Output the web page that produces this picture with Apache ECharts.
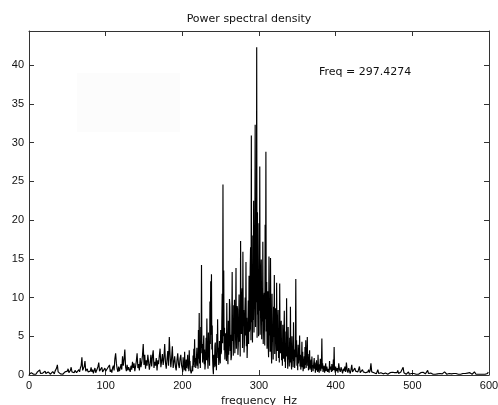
<!DOCTYPE html>
<html>
<head>
<meta charset="utf-8">
<script src="https://cdn.jsdelivr.net/npm/echarts@6/dist/echarts.min.js"></script>
<style>html,body{margin:0;padding:0;background:#fff}#c{width:498px;height:405px}</style>
</head>
<body>
<div id="c"></div>
<script>
// PSD values.
// low band: 0..199 Hz, 1 Hz spacing
const psdLow = [
0.05,0.2,0.1,0.3,0.15,0.25,0.1,0.2,0.35,0.1,
0.2,0.4,0.15,0.3,0.65,0.2,0.1,0.3,0.25,0.15,
0.35,0.5,0.2,0.1,0.3,0.4,0.15,0.25,0.1,0.3,
0.2,0.45,0.3,0.15,0.5,0.3,0.9,1.3,0.4,0.2,
0.3,0.15,0.35,0.25,0.1,0.3,0.2,0.4,0.15,0.35,
0.5,0.8,0.3,0.2,0.6,1.0,0.4,0.25,0.5,0.3,
0.6,0.8,0.3,0.5,0.2,0.7,0.4,0.9,1.2,2.3,
0.6,0.4,1.1,1.8,0.5,0.3,0.8,0.4,0.6,0.3,
0.5,1.0,0.4,0.7,0.2,0.6,0.9,0.3,0.5,0.8,
1.1,1.6,0.5,0.3,0.7,1.0,0.4,0.6,0.2,0.9,
0.5,0.3,0.8,0.6,1.0,1.3,0.4,0.7,0.3,0.9,
1.2,0.6,2.1,2.8,1.5,0.8,0.4,1.1,0.5,0.9,
1.4,0.7,2.4,1.2,2.0,3.3,1.0,0.5,1.3,0.6,
1.0,0.8,0.4,1.2,0.7,1.7,0.9,1.5,0.5,1.1,
1.8,2.8,0.9,1.4,0.6,2.2,1.0,1.6,2.5,4.0,
1.3,2.6,0.8,1.9,1.2,2.6,2.5,0.7,1.5,2.6,
1.1,2.4,3.2,0.9,1.7,1.2,2.2,0.6,1.9,1.4,
2.5,3.4,1.0,1.8,2.7,1.3,2.2,4.0,1.6,0.8,
2.0,3.1,1.2,4.9,2.6,1.0,2.2,3.7,0.9,1.7,
2.4,1.1,0.6,1.9,2.8,1.4,0.9,2.1,2.6,1.2
];
// mid band: 200..400 Hz, 0.5 Hz spacing
const psdMid = [
0.8,0.4,2.3,1.1,1.5,0.6,3.0,1.2,1.0,0.5,
2.0,0.9,0.7,1.8,2.6,0.8,1.4,0.5,3.2,1.5,
1.8,0.7,0.6,0.2,0.1,0.6,1.2,0.5,2.5,1.3,
3.4,1.0,4.6,1.7,2.2,0.9,1.0,2.4,3.5,1.2,
2.0,0.8,5.8,2.1,8.0,1.5,3.1,0.9,6.2,2.8,
14.2,3.5,4.0,1.6,2.2,3.9,5.1,1.4,3.3,0.7,
1.4,2.5,4.8,1.9,7.3,3.2,2.0,0.8,5.5,2.3,
3.0,1.2,9.5,4.0,12.1,5.2,13.0,3.3,6.4,2.1,
0.8,0.1,2.6,1.0,1.5,3.8,4.2,1.1,2.0,0.6,
5.3,2.2,7.2,3.0,3.5,1.3,1.1,4.4,2.4,1.5,
5.8,2.7,3.0,6.8,10.5,4.1,24.6,5.0,13.5,3.2,
6.1,2.0,2.2,5.4,4.7,1.8,9.3,3.5,3.6,1.4,
7.0,2.6,4.1,9.8,8.8,3.1,5.2,1.9,2.3,6.0,
13.3,4.4,6.6,2.5,9.0,5.3,9.7,2.8,4.8,7.6,
13.8,3.4,6.2,8.9,8.5,2.6,3.9,6.7,10.4,4.3,
7.1,2.4,17.3,6.0,5.3,9.8,11.2,3.5,15.9,6.3,
8.4,2.9,4.2,7.7,10.0,5.1,14.6,3.7,7.4,2.2,
2.0,6.3,9.6,4.0,12.8,5.6,6.0,13.7,16.5,4.5,
30.9,6.8,11.5,4.2,18.0,7.1,22.5,5.5,9.2,15.0,
32.3,6.2,14.0,9.4,42.3,4.8,21.0,7.8,12.4,5.0,
19.6,8.3,26.9,5.2,8.5,13.1,14.9,4.6,11.0,6.9,
17.2,4.0,6.8,9.9,10.6,3.8,19.4,7.2,28.8,5.6,
12.0,3.4,7.5,10.8,4.0,2.3,15.3,5.1,9.0,3.0,
15.1,6.4,3.2,1.5,10.5,4.3,6.3,2.0,8.8,4.9,
12.9,2.7,5.0,8.6,7.9,1.8,11.9,4.1,3.1,6.7,
8.4,2.2,5.5,1.6,11.8,4.6,2.8,6.0,7.0,1.9,
4.2,1.2,6.5,3.0,2.1,5.2,8.3,1.7,3.7,0.9,
5.6,2.4,9.9,3.1,2.5,0.8,6.2,2.0,3.4,1.1,
4.8,1.6,8.8,2.6,1.5,0.7,5.0,2.1,2.9,1.0,
6.8,1.8,3.3,0.9,1.9,4.1,12.4,2.3,4.5,1.2,
2.3,0.6,3.9,1.5,1.4,2.8,5.1,1.1,2.6,0.7,
1.2,2.0,4.3,1.0,3.0,0.5,0.9,1.7,2.4,0.8,
3.6,1.3,4.5,0.9,1.8,2.6,4.9,1.2,2.7,0.6,
1.1,1.9,3.2,0.7,0.8,1.5,2.0,0.4,2.4,1.0,
1.3,0.5,0.7,1.6,2.2,0.8,1.6,0.3,0.5,1.1,
1.9,0.6,1.0,0.4,2.6,1.2,0.6,0.3,1.4,0.7,
2.1,0.5,0.9,1.6,4.7,0.8,1.5,0.4,0.8,1.0,
1.2,0.3,0.4,0.9,1.5,0.5,0.7,1.1,1.3,0.4,
0.5,0.8,1.0,0.3,1.8,0.7,0.6,1.1,0.9,0.4,
1.4,0.5,0.3,0.9,2.0,0.6,3.6,1.0,0.8,0.3,
1.1
];
// high band: 401..600 Hz, 1 Hz spacing
const psdHigh = [
0.5,0.9,0.3,1.5,0.7,0.4,1.0,0.6,0.2,
0.8,0.5,1.1,0.4,1.6,0.6,0.3,0.9,0.5,0.2,
0.7,1.3,0.4,0.6,0.2,0.9,0.5,0.3,0.7,0.4,
0.6,1.1,0.3,0.5,0.2,0.7,0.4,0.2,0.6,0.3,
0.5,0.2,0.4,0.7,0.3,0.6,1.5,0.4,0.2,0.5,
0.3,0.2,0.4,0.15,0.3,0.7,0.2,0.35,0.1,0.3,
0.2,0.4,0.15,0.3,0.1,0.25,0.4,0.2,0.1,0.3,
0.15,0.3,0.2,0.1,0.35,0.2,0.15,0.3,0.1,0.2,
0.3,0.6,0.2,0.35,0.1,0.4,0.2,0.5,1.0,0.3,
0.15,0.3,0.1,0.25,0.2,0.4,0.1,0.3,0.15,0.2,
0.3,0.1,0.2,0.35,0.15,0.1,0.3,0.2,0.1,0.25,
0.15,0.3,0.1,0.2,0.35,0.1,0.2,0.15,0.3,0.1,
0.6,0.2,0.3,0.1,0.25,0.15,0.35,0.1,0.2,0.3,
0.1,0.2,0.35,0.15,0.1,0.3,0.2,0.1,0.25,0.15,
0.3,0.2,0.4,0.65,0.2,0.1,0.3,0.15,0.2,0.1,
0.25,0.15,0.3,0.1,0.2,0.35,0.1,0.2,0.15,0.3,
0.1,0.2,0.25,0.1,0.3,0.15,0.2,0.1,0.3,0.2,
0.15,0.1,0.25,0.2,0.1,0.3,0.15,0.2,0.1,0.25,
0.3,0.4,0.15,0.1,0.2,0.3,0.1,0.2,0.15,0.1,
0.2,0.15,0.1,0.25,0.2,0.1,0.3,0.15,0.2,0.4,
0.1
];
const bands = [
  {start: 0, step: 1, values: psdLow},
  {start: 200, step: 0.5, values: psdMid},
  {start: 401, step: 1, values: psdHigh}
];
const xTicks = [0, 100, 200, 300, 400, 500, 600];
const yTicks = [0, 5, 10, 15, 20, 25, 30, 35, 40];
const yMax = 44.4;
const titleText = 'Power spectral density';
const xLabel = 'frequency  Hz';
const annotation = 'Freq = 297.4274';

const points = [];
bands.forEach(b => b.values.forEach((v, i) => points.push([b.start + i * b.step, v])));

const font = '"Liberation Sans", Arial, Helvetica, sans-serif';
const wideFont = '"DejaVu Sans", "Liberation Sans", sans-serif';
const axisColor = '#333';

const chart = echarts.init(document.getElementById('c'), null, {renderer: 'canvas'});
const baseAxis = {
  axisLine: {show: true, onZero: false, lineStyle: {color: axisColor, width: 1}},
  axisTick: {show: true, inside: true, length: 5, lineStyle: {color: axisColor}},
  splitLine: {show: false}
};
chart.setOption({
  animation: false,
  backgroundColor: '#fff',
  title: {
    text: titleText, left: 'center', top: 9,
    textStyle: {fontFamily: wideFont, fontSize: 11, fontWeight: 'normal', color: '#111'}
  },
  grid: {left: 29, right: 9, top: 31, bottom: 30, containLabel: false, outerBoundsMode: 'none'},
  xAxis: [
    Object.assign({}, baseAxis, {
      type: 'value', min: xTicks[0], max: xTicks[xTicks.length - 1], interval: 100, position: 'bottom',
      name: xLabel, nameLocation: 'middle', nameGap: 18,
      nameTextStyle: {fontFamily: wideFont, fontSize: 11, color: '#111'},
      axisLabel: {fontFamily: font, fontSize: 11, color: '#111', margin: 5}
    }),
    Object.assign({}, baseAxis, {
      type: 'value', min: xTicks[0], max: xTicks[xTicks.length - 1], interval: 100, position: 'top',
      axisLabel: {show: false}
    })
  ],
  yAxis: [
    Object.assign({}, baseAxis, {
      type: 'value', min: yTicks[0], max: yMax, interval: 5, position: 'left',
      axisLabel: {fontFamily: font, fontSize: 11, color: '#111', margin: 5, showMaxLabel: false,
        formatter: v => (yTicks.indexOf(v) >= 0 ? String(v) : '')}
    }),
    Object.assign({}, baseAxis, {
      type: 'value', min: yTicks[0], max: yMax, interval: 5, position: 'right',
      axisLabel: {show: false}
    })
  ],
  graphic: [
    {type: 'rect', left: 77, top: 73, shape: {width: 103, height: 59}, style: {fill: '#fcfcfc'}, silent: true, z: -1},
    {type: 'text', left: 319, top: 67, style: {text: annotation, fontFamily: wideFont, fontSize: 11, fill: '#111'}}
  ],
  series: [{
    type: 'line', data: points, xAxisIndex: 0, yAxisIndex: 0,
    symbol: 'none', sampling: null, clip: true,
    lineStyle: {color: '#000', width: 1.15}
  }]
});
</script>
</body>
</html>
